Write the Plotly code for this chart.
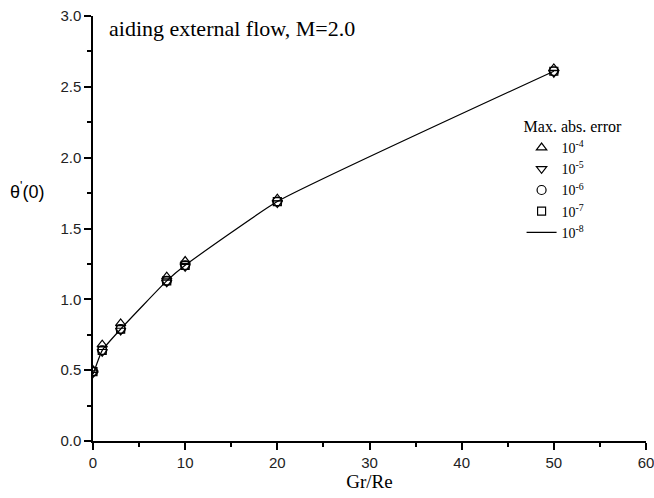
import plotly.graph_objects as go

# Gr/Re values and wall gradient theta'(0) for each error tolerance
gr_re = [0, 1, 3, 8, 10, 20, 50]
err_1e4 = [0.50, 0.68, 0.83, 1.16, 1.27, 1.71, 2.63]
err_1e5 = [0.48, 0.63, 0.78, 1.12, 1.23, 1.68, 2.60]
err_1e6 = [0.49, 0.64, 0.79, 1.13, 1.24, 1.69, 2.61]
err_1e7 = [0.49, 0.64, 0.79, 1.13, 1.24, 1.69, 2.61]
err_1e8 = [0.47, 0.64, 0.79, 1.13, 1.24, 1.69, 2.61]

x_ticks = [0, 10, 20, 30, 40, 50, 60]
y_ticks = [0.0, 0.5, 1.0, 1.5, 2.0, 2.5, 3.0]

serif = "Liberation Serif, Times New Roman, serif"
sans = "Liberation Sans, Arial, sans-serif"

fig = go.Figure()

marker_series = [
    (err_1e4, "triangle-up-open", "10<sup>-4</sup>", 9),
    (err_1e5, "triangle-down-open", "10<sup>-5</sup>", 9),
    (err_1e6, "circle-open", "10<sup>-6</sup>", 9),
    (err_1e7, "square-open", "10<sup>-7</sup>", 8),
]
for yvals, sym, name, size in marker_series:
    fig.add_trace(go.Scatter(
        x=gr_re, y=yvals, mode="markers", name=name,
        marker=dict(symbol=sym, size=size, color="black",
                    line=dict(color="black", width=1.2)),
    ))

fig.add_trace(go.Scatter(
    x=gr_re, y=err_1e8, mode="lines", name="10<sup>-8</sup>",
    line=dict(color="black", width=1.2, shape="spline", smoothing=0.4),
))

axis_common = dict(
    showgrid=False, zeroline=False, showline=True, linecolor="black",
    linewidth=1.5, ticks="outside", ticklen=7, tickwidth=1.5,
    tickcolor="black", tickfont=dict(family=sans, size=15, color="#222"),
    minor=dict(ticks="outside", ticklen=4, tickwidth=1.5, tickcolor="black"),
    automargin=False, ticklabeloverflow="allow",
)

fig.update_xaxes(
    range=[0, 60], tickvals=x_ticks, minor_dtick=5, **axis_common,
    title=dict(text="Gr/Re", font=dict(family=serif, size=19, color="black"),
               standoff=4),
)
fig.update_yaxes(
    range=[0, 3.0], tickvals=y_ticks, ticktext=[f"{v:.1f}" for v in y_ticks],
    minor_dtick=0.25, **axis_common,
)

fig.add_annotation(
    text="aiding external flow, M=2.0", xref="paper", yref="paper",
    x=0.026, y=0.97, xanchor="left", yanchor="middle", showarrow=False,
    font=dict(family=serif, size=22, color="black"),
)
fig.add_annotation(
    text="θ<sup>'</sup>(0)", xref="paper", yref="paper",
    x=-0.085, y=0.59, xanchor="right", yanchor="middle", showarrow=False,
    font=dict(family=sans, size=18, color="black"),
)

fig.update_layout(
    width=654, height=498,
    margin=dict(l=93, r=8, t=16, b=57),
    paper_bgcolor="white", plot_bgcolor="white",
    legend=dict(
        title=dict(text="Max. abs. error", font=dict(family=serif, size=16)),
        x=0.775, y=0.776, xanchor="left", yanchor="top",
        font=dict(family=serif, size=14, color="black"),
        bgcolor="rgba(0,0,0,0)", tracegroupgap=0, itemwidth=30,
    ),
    showlegend=True,
)

fig.write_html("out.html")
